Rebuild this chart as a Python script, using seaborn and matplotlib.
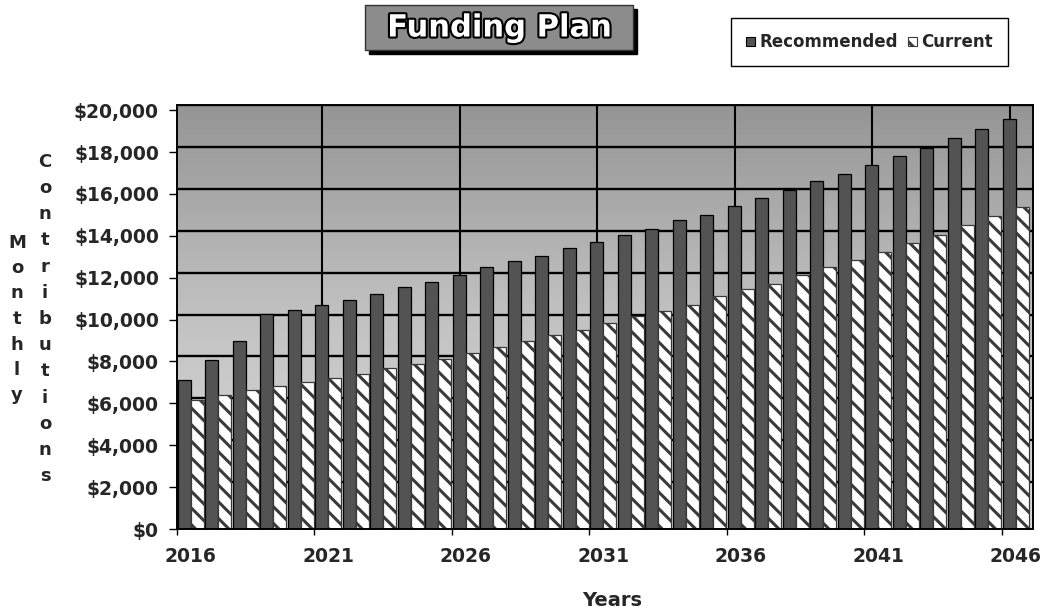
import numpy as np
import pandas as pd
import matplotlib
matplotlib.use("Agg")
import matplotlib.pyplot as plt
import seaborn as sns
from matplotlib import patheffects, transforms
from matplotlib.patches import Rectangle, Patch
from matplotlib.colors import LinearSegmentedColormap

# ---------------- data ----------------
years = [str(y) for y in range(2016, 2047)]
recommended = [7100, 8050, 9000, 10250, 10450, 10720, 10960, 11240, 11580, 11820,
               12150, 12490, 12820, 13060, 13400, 13730, 14020, 14350, 14740, 15020,
               15450, 15790, 16170, 16600, 16940, 17370, 17800, 18180, 18660, 19090,
               19570]
current = [6170, 6410, 6650, 6840, 7030, 7220, 7420, 7700, 7890, 8130,
           8420, 8710, 9000, 9280, 9520, 9860, 10190, 10430, 10720, 11150,
           11440, 11720, 12110, 12490, 12870, 13250, 13640, 14020, 14500, 14930,
           15360]
series_names = ["Recommended", "Current"]
x_tick_labels = ["2016", "2021", "2026", "2031", "2036", "2041", "2046"]
y_ticks = [0, 2000, 4000, 6000, 8000, 10000, 12000, 14000, 16000, 18000, 20000]
title = "Funding Plan"
x_title = "Years"
y_title_1 = "Monthly"
y_title_2 = "Contributions"

df = pd.DataFrame({
    "Year": years * 2,
    "Series": [series_names[0]] * len(years) + [series_names[1]] * len(years),
    "Value": recommended + current,
})

# ---------------- style ----------------
sns.set_theme(style="white")
plt.rcParams["font.family"] = ["DejaVu Sans"]
plt.rcParams["font.weight"] = "bold"
plt.rcParams["hatch.linewidth"] = 2.2

REC_COLOR = "#535353"
HATCH_COLOR = "#3a3a3a"

W, H, DPI = 1044, 613, 100
fig = plt.figure(figsize=(W / DPI, H / DPI), dpi=DPI)
fig.patch.set_facecolor("white")

left_px, right_px, top_px, bottom_px = 177, 1033, 105, 529
ax = fig.add_axes([left_px / W, 1 - bottom_px / H,
                   (right_px - left_px) / W, (bottom_px - top_px) / H])

# back wall gradient
grad = np.linspace(0, 1, 256).reshape(-1, 1)
wall_cmap = LinearSegmentedColormap.from_list("wall", ["#dcdcdc", "#c2c2c2", "#959595"])
ax.imshow(grad, extent=(0, 1, 0, 1), transform=ax.transAxes, aspect="auto",
          cmap=wall_cmap, origin="lower", zorder=0)

sns.barplot(data=df, x="Year", y="Value", hue="Series", hue_order=series_names,
            palette={"Recommended": REC_COLOR, "Current": "#ffffff"},
            width=0.95, edgecolor="black", linewidth=0.9, dodge=True,
            legend=False, ax=ax, zorder=2)

for p in ax.containers[1]:
    p.set_hatch("\\\\")
    p.set_edgecolor(HATCH_COLOR)

ymax = 20250
xmin, xmax = -0.5, len(years) - 0.5 + 0.13
ax.set_xlim(xmin, xmax)
ax.set_ylim(0, ymax)

# gridlines on the (offset) back wall
off = transforms.ScaledTranslation(8 / DPI, 5 / DPI, fig.dpi_scale_trans)
for v in y_ticks[1:]:
    ax.plot([xmin - 1, xmax + 1], [v, v], color="black", lw=1.7,
            transform=ax.transData + off, zorder=1)
for i in range(5, len(years), 5):
    ax.plot([i - 0.5, i - 0.5], [0, ymax + 500], color="black", lw=1.5,
            transform=ax.transData + off, zorder=1)

# axes ticks
ax.set_yticks(y_ticks)
ax.set_yticklabels([f"${v:,.0f}" for v in y_ticks], fontsize=13.5, fontweight="bold")
label_pos = [years.index(t) for t in x_tick_labels]
ax.set_xticks(label_pos)
ax.set_xticklabels(x_tick_labels, fontsize=13.5, fontweight="bold")
ax.set_xticks([p - 0.5 for p in label_pos], minor=True)
ax.tick_params(axis="x", which="major", length=0, pad=13)
ax.tick_params(axis="x", which="minor", length=4, width=1, color="black", direction="out",
               bottom=True)
ax.tick_params(axis="y", length=6, width=1, color="black", direction="out", left=True,
               pad=7)
ax.set_xlabel("")
ax.set_ylabel("")
for s in ax.spines.values():
    s.set_color("black")
    s.set_linewidth(1.4)
ax.grid(False)

# axis titles
fig.text(612 / W, 1 - 600 / H, x_title, ha="center", va="center",
         fontsize=14, fontweight="bold")
yc = 319
sp = 25.5
for k, ch in enumerate(y_title_1):
    fig.text(17 / W, 1 - (yc + (k - (len(y_title_1) - 1) / 2) * sp) / H, ch,
             ha="center", va="center", fontsize=13, fontweight="bold")
sp2 = 26.2
for k, ch in enumerate(y_title_2):
    fig.text(45 / W, 1 - (yc + (k - (len(y_title_2) - 1) / 2) * sp2) / H, ch,
             ha="center", va="center", fontsize=13, fontweight="bold")

# title with grey box and black drop shadow
bx0, bx1, by0, by1 = 365, 633, 5, 50
fig.patches.append(Rectangle(((bx0 + 4) / W, 1 - (by1 + 4) / H), (bx1 - bx0) / W,
                             (by1 - by0) / H, transform=fig.transFigure,
                             facecolor="black", edgecolor="black", zorder=1))
fig.patches.append(Rectangle((bx0 / W, 1 - by1 / H), (bx1 - bx0) / W,
                             (by1 - by0) / H, transform=fig.transFigure,
                             facecolor="#8c8c8c", edgecolor="#333333", lw=1, zorder=2))
fig.text((bx0 + bx1) / 2 / W, 1 - 28 / H, title, ha="center", va="center",
         fontsize=22, fontweight="bold", color="white", zorder=3,
         path_effects=[patheffects.withStroke(linewidth=3, foreground="black")])

# legend
handles = [Patch(facecolor=REC_COLOR, edgecolor="black", lw=0.8),
           Patch(facecolor="white", edgecolor=HATCH_COLOR, hatch="\\\\", lw=0.8)]
leg = fig.legend(handles, series_names, loc="upper left",
                 bbox_to_anchor=(723 / W, 1 - 10 / H), ncol=2, frameon=True,
                 fancybox=False, edgecolor="black", framealpha=1,
                 prop={"size": 12, "weight": "bold"}, handlelength=0.5,
                 handleheight=0.5, handletextpad=0.3, columnspacing=0.6,
                 borderpad=0.9)
leg.get_frame().set_linewidth(1.0)

fig.savefig("out.png", dpi=DPI)
